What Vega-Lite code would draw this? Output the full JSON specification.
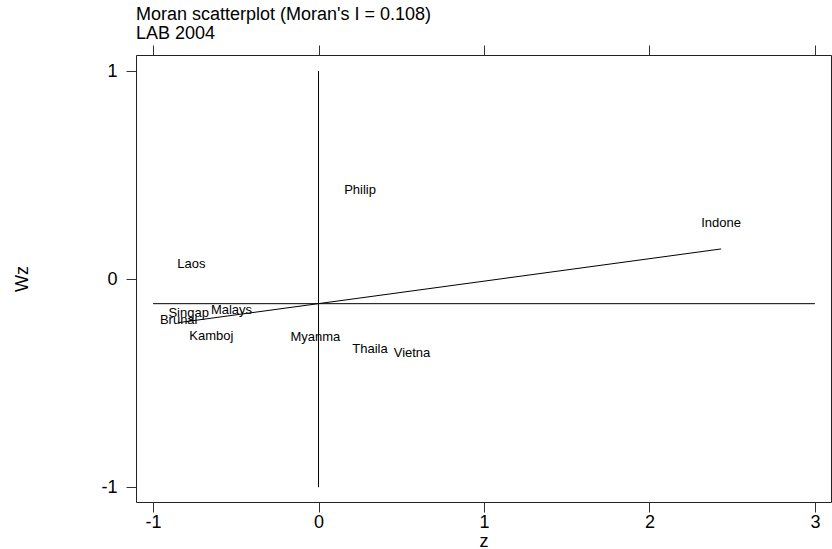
{
  "$schema": "https://vega.github.io/schema/vega-lite/v6.json",
  "width": 695,
  "height": 447,
  "autosize": "none",
  "padding": {"left": 136, "top": 55, "right": 1, "bottom": 47},
  "background": "white",
  "config": {
    "view": {"stroke": "#222222", "strokeWidth": 1},
    "font": "Liberation Sans",
    "axis": {"grid": false, "domain": false, "tickColor": "#333333", "tickSize": 10, "labelColor": "#000000", "titleColor": "#000000", "labelFont": "Liberation Sans", "titleFont": "Liberation Sans", "labelFontSize": 18, "titleFontSize": 18, "titleFontWeight": "normal"}
  },
  "title": {
    "text": ["Moran scatterplot (Moran's I = 0.108)", "LAB 2004"],
    "anchor": "start",
    "frame": "group",
    "fontSize": 18,
    "fontWeight": "normal",
    "font": "Liberation Sans",
    "color": "#000000",
    "lineHeight": 19,
    "offset": 2
  },
  "datasets": {
    "labels": [
      {"name": "Philip", "z": 0.251, "Wz": 0.430},
      {"name": "Indone", "z": 2.433, "Wz": 0.271},
      {"name": "Laos", "z": -0.768, "Wz": 0.073},
      {"name": "Singap", "z": -0.785, "Wz": -0.161},
      {"name": "Brunai", "z": -0.845, "Wz": -0.197},
      {"name": "Malays", "z": -0.526, "Wz": -0.147},
      {"name": "Kamboj", "z": -0.648, "Wz": -0.271},
      {"name": "Myanma", "z": -0.019, "Wz": -0.280},
      {"name": "Thaila", "z": 0.311, "Wz": -0.336},
      {"name": "Vietna", "z": 0.565, "Wz": -0.353}
    ],
    "fit": [
      {"z": -0.845, "fitted": -0.209},
      {"z": 2.433, "fitted": 0.145}
    ],
    "vline": [{"z": 0, "y1": -1, "y2": 1}],
    "hline": [{"x1": -1, "x2": 3, "Wz": -0.118}]
  },
  "resolve": {"axis": {"x": "independent", "y": "independent"}},
  "layer": [
    {
      "data": {"name": "vline"},
      "mark": {"type": "rule", "color": "#000000", "strokeWidth": 1},
      "encoding": {
        "x": {"field": "z", "type": "quantitative", "scale": {"domain": [-1.103, 3.097], "nice": false, "zero": false},
              "axis": {"orient": "top", "values": [-1, 0, 1, 2, 3], "labels": false, "title": null, "tickSize": 10}},
        "y": {"field": "y1", "type": "quantitative", "scale": {"domain": [-1.071, 1.077], "nice": false, "zero": false}, "axis": null},
        "y2": {"field": "y2"}
      }
    },
    {
      "data": {"name": "hline"},
      "mark": {"type": "rule", "color": "#000000", "strokeWidth": 1},
      "encoding": {
        "x": {"field": "x1", "type": "quantitative", "axis": null},
        "x2": {"field": "x2"},
        "y": {"field": "Wz", "type": "quantitative", "axis": null}
      }
    },
    {
      "data": {"name": "fit"},
      "mark": {"type": "line", "color": "#000000", "strokeWidth": 1},
      "encoding": {
        "x": {"field": "z", "type": "quantitative", "axis": null},
        "y": {"field": "fitted", "type": "quantitative", "axis": null}
      }
    },
    {
      "data": {"name": "labels"},
      "mark": {"type": "text", "font": "Liberation Sans", "fontSize": 13, "color": "#000000", "align": "center", "baseline": "middle"},
      "encoding": {
        "x": {"field": "z", "type": "quantitative",
              "axis": {"orient": "bottom", "values": [-1, 0, 1, 2, 3], "title": "z", "labelPadding": 1, "labelExpr": "toString(datum.value)",
                       "titleX": 347.5, "titleY": 44, "titleBaseline": "alphabetic", "titleAnchor": null}},
        "y": {"field": "Wz", "type": "quantitative",
              "axis": {"orient": "left", "values": [-1, 0, 1], "title": "Wz", "labelPadding": 9, "labelExpr": "toString(datum.value)",
                       "titleX": -109, "titleY": 223.5, "titleAngle": -90, "titleBaseline": "alphabetic", "titleAlign": "center", "titleAnchor": null}},
        "text": {"field": "name"}
      }
    }
  ]
}
